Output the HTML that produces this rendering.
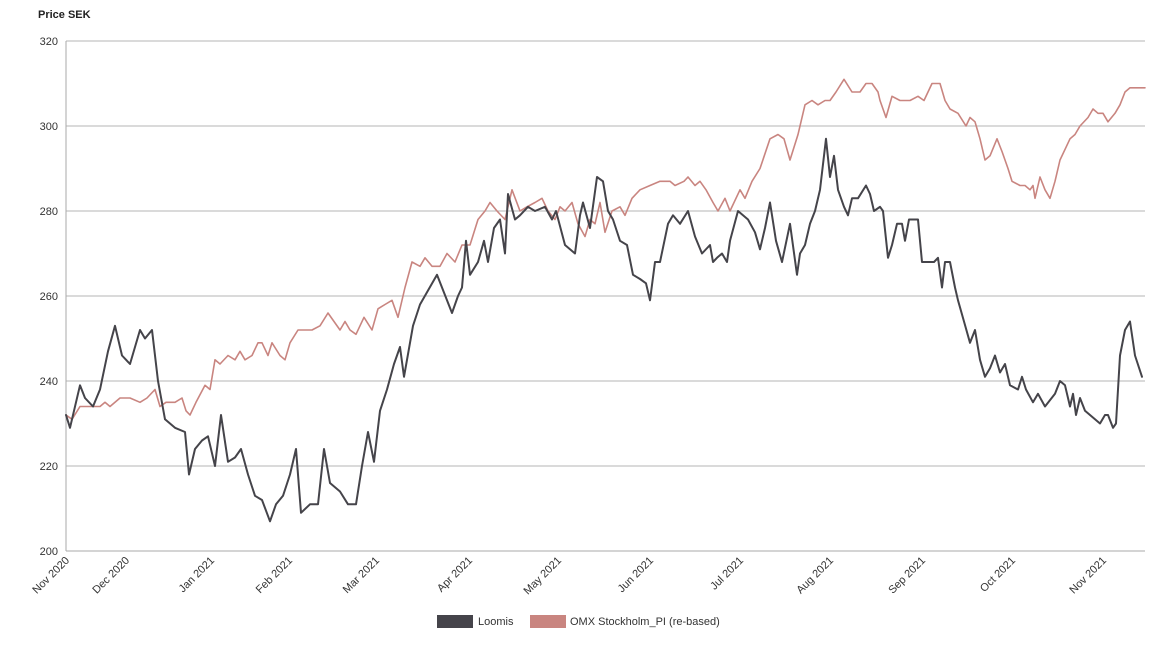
<!DOCTYPE html>
<html><head><meta charset="utf-8"><style>
body{margin:0;background:#fff;font-family:"Liberation Sans",Arial,sans-serif;}
svg text{font-family:"Liberation Sans",Arial,sans-serif;}
</style></head><body>
<svg id="chart" width="1166" height="651" viewBox="0 0 1166 651" xmlns="http://www.w3.org/2000/svg">
<text x="38" y="18" font-size="11" font-weight="bold" fill="#222">Price SEK</text>
<g id="grid"></g>
<g id="yticks"></g>
<g id="xticks"></g>
<g id="series"></g>
<g>
<g><rect x="437" y="615" width="36" height="13" fill="#45444a"/><text x="478" y="625" font-size="11" fill="#333">Loomis</text></g>
<g><rect x="530" y="615" width="36" height="13" fill="#c98580"/><text x="570" y="625" font-size="11" fill="#333">OMX Stockholm_PI (re-based)</text></g>
</g>
</svg>
<script>
const yTicks=[200,220,240,260,280,300,320];
const monthLabels=["Nov 2020","Dec 2020","Jan 2021","Feb 2021","Mar 2021","Apr 2021","May 2021","Jun 2021","Jul 2021","Aug 2021","Sep 2021","Oct 2021","Nov 2021"];
const monthIdx=[0,60,145,223,310,403,492,584,674,764,856,946,1037];
const loomisIdx=[0,4,14,19,27,34,42,49,56,64,74,79,86,92,99,109,119,123,129,136,142,149,155,162,169,175,182,189,196,204,210,217,224,230,235,244,252,258,264,274,282,290,296,302,308,314,321,328,334,338,347,354,371,386,392,396,400,404,412,418,422,428,434,439,442,449,454,462,469,479,486,490,499,509,514,517,524,531,537,542,547,554,561,567,574,580,584,589,594,602,607,614,622,629,636,644,647,651,656,661,664,672,682,689,694,699,704,710,716,724,731,734,739,744,749,754,760,764,768,772,778,782,786,792,800,804,808,814,817,822,826,831,836,839,843,847,852,856,862,868,872,876,879,884,889,892,898,904,909,914,919,924,929,934,939,944,952,956,960,967,972,979,989,994,999,1004,1007,1010,1014,1019,1029,1034,1039,1042,1047,1050,1054,1059,1064,1069,1076];
const loomisVal=[232,229,239,236,234,238,247,253,246,244,252,250,252,240,231,229,228,218,224,226,227,220,232,221,222,224,218,213,212,207,211,213,218,224,209,211,211,224,216,214,211,211,220,228,221,233,238,244,248,241,253,258,265,256,260,262,273,265,268,273,268,276,278,270,284,278,279,281,280,281,278,280,272,270,279,282,276,288,287,280,278,273,272,265,264,263,259,268,268,277,279,277,280,274,270,272,268,269,270,268,273,280,278,275,271,276,282,273,268,277,265,270,272,277,280,285,297,288,293,285,281,279,283,283,286,284,280,281,280,269,272,277,277,273,278,278,278,268,268,268,269,262,268,268,262,259,254,249,252,245,241,243,246,242,244,239,238,241,238,235,237,234,237,240,239,234,237,232,236,233,231,230,232,232,229,230,246,252,254,246,241];
const omxIdx=[0,6,14,24,34,39,44,54,64,74,81,89,94,100,109,116,120,124,130,139,144,149,154,162,169,174,179,186,192,196,202,206,214,219,224,232,239,246,254,262,274,279,284,290,298,306,312,319,326,332,339,346,354,359,366,374,381,389,396,404,412,419,424,431,439,446,454,461,469,476,482,489,494,499,506,512,519,524,529,534,539,546,554,559,566,574,584,594,604,609,618,622,629,634,640,647,652,659,664,674,679,686,694,704,712,718,724,732,739,746,752,759,764,770,778,786,794,800,806,812,814,820,826,834,844,852,858,866,874,879,884,892,900,904,909,914,919,924,931,936,942,946,954,959,964,967,969,974,979,984,989,994,1000,1004,1009,1014,1022,1027,1032,1037,1042,1049,1054,1059,1064,1079];
const omxVal=[232,231,234,234,234,235,234,236,236,235,236,238,234,235,235,236,233,232,235,239,238,245,244,246,245,247,245,246,249,249,246,249,246,245,249,252,252,252,253,256,252,254,252,251,255,252,257,258,259,255,262,268,267,269,267,267,270,268,272,272,278,280,282,280,278,285,280,281,282,283,280,278,281,280,282,277,274,278,277,282,275,280,281,279,283,285,286,287,287,286,287,288,286,287,285,282,280,283,280,285,283,287,290,297,298,297,292,298,305,306,305,306,306,308,311,308,308,310,310,308,306,302,307,306,306,307,306,310,310,306,304,303,300,302,301,297,292,293,297,294,290,287,286,286,285,286,283,288,285,283,287,292,295,297,298,300,302,304,303,303,301,303,305,308,309,309];

const NS="http://www.w3.org/2000/svg";
const X0=66,X1=1145,Y0=551,Y1=41;
const xScale=i=>X0+i/1079*(X1-X0);
const yScale=v=>Y0-(v-200)/120*(Y0-Y1);
function mk(tag,attrs,parent){const e=document.createElementNS(NS,tag);for(const k in attrs)e.setAttribute(k,attrs[k]);parent.appendChild(e);return e;}
const grid=document.getElementById('grid'),yt=document.getElementById('yticks'),xt=document.getElementById('xticks'),ser=document.getElementById('series');
yTicks.forEach(v=>{
 const l=mk('line',{x1:X0,x2:X1,y1:yScale(v),y2:yScale(v),stroke:v===200?'#aaa':'#b5b5b5','stroke-width':1},grid);
 
 
 const t=mk('text',{x:58,y:yScale(v)+4,'text-anchor':'end','font-size':11,fill:'#333'},yt);
 t.textContent=v;
 
 
});
const ax=mk('line',{x1:X0,x2:X0,y1:Y1,y2:Y0,stroke:'#aaa','stroke-width':1},grid);


monthLabels.forEach((m,i)=>{
 const x=xScale(monthIdx[i])+4,y=Y0+10;
 const t=mk('text',{x:x,y:y,'text-anchor':'end','font-size':11,fill:'#333',transform:`rotate(-45 ${x} ${y})`},xt);
 t.textContent=m;
 
 
});
function draw(idx,val,color,name){
 const n=Math.min(idx.length,val.length);
 let d='';
 for(let k=0;k<n;k++){d+=(k?'L':'M')+xScale(idx[k]).toFixed(1)+','+yScale(val[k]).toFixed(1)+' ';}
 const p=mk('path',{d:d,fill:'none',stroke:color,'stroke-width':name==='loomis-line'?2:1.6,'stroke-linejoin':'round','stroke-linecap':'round'},ser);
 
 
}
draw(omxIdx,omxVal,'#c98580','omx-line');
draw(loomisIdx,loomisVal,'#45444a','loomis-line');
</script>
</body></html>
